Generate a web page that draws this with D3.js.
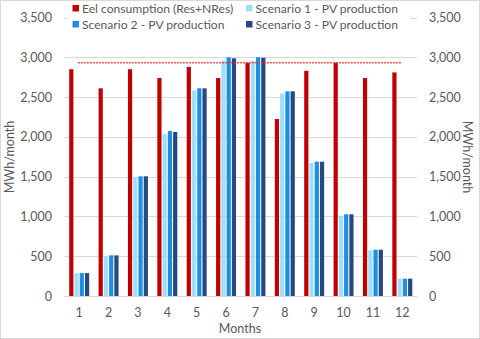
<!DOCTYPE html>
<html><head><meta charset="utf-8">
<script src="https://cdn.jsdelivr.net/npm/d3@7"></script>
<style>body{margin:0;background:#fff}svg{display:block}text{font-family:Lato,"Open Sans",sans-serif;fill:#595959}</style>
</head><body>
<script>
const months = ["1","2","3","4","5","6","7","8","9","10","11","12"];
const seriesNames = ["Eel consumption (Res+NRes)","Scenario 1 - PV production","Scenario 2 - PV production","Scenario 3 - PV production"];
const consumption = [2850,2610,2850,2740,2880,2740,2930,2225,2830,2930,2740,2810];
const scenario1 = [285,503,1487,2036,2585,2957,2957,2547,1671,1009,574,218];
const scenario2 = [288,511,1504,2074,2610,3000,3000,2572,1688,1027,582,218];
const scenario3 = [288,511,1504,2061,2610,2987,2995,2572,1688,1027,582,218];
const maxConsumption = 2930;
const yTicks = [0,500,1000,1500,2000,2500,3000,3500];
const colors = ["#C00000","#9DDFFD","#1A8FE3","#264A80"];

const W=480,H=339;
const svg=d3.select("body").append("svg").attr("width",W).attr("height",H);
svg.append("rect").attr("x",0.5).attr("y",0.5).attr("width",W-1).attr("height",H-1).attr("fill","#fff").attr("stroke","#d9d9d9");

const x=d3.scaleBand().domain(months).range([64.5,417]).paddingInner(0.32).paddingOuter(0.16);
const y=d3.scaleLinear().domain([0,3500]).range([296,17.5]);
const xs=d3.scaleBand().domain(d3.range(4)).range([0,x.bandwidth()]).paddingInner(0.2);

// grid
svg.append("g").selectAll("line").data(yTicks).join("line")
  .attr("x1",64.5).attr("x2",417).attr("y1",d=>Math.round(y(d))+0.5).attr("y2",d=>Math.round(y(d))+0.5)
  .attr("stroke","#d9d9d9").attr("stroke-width",1);

// axes labels
const fmt=d3.format(",");
const la=svg.append("g").attr("transform","translate(57,0)").call(d3.axisLeft(y).tickValues(yTicks).tickFormat(fmt).tickSize(0).tickPadding(5));
la.select(".domain").remove();
const ra=svg.append("g").attr("transform","translate(424,0)").call(d3.axisRight(y).tickValues(yTicks).tickFormat(fmt).tickSize(0).tickPadding(5));
ra.select(".domain").remove();
const ba=svg.append("g").attr("transform","translate(0,296)").call(d3.axisBottom(x).tickSize(0).tickPadding(12));
ba.select(".domain").attr("stroke","#d9d9d9");
svg.selectAll(".tick text").attr("font-family","Lato,sans-serif").attr("font-size",12.5).attr("fill","#595959");

// bars
const data=[consumption,scenario1,scenario2,scenario3];
const g=svg.append("g");
data.forEach((vals,si)=>{
  g.selectAll(null).data(vals).join("rect")
    .attr("x",(d,i)=>x(months[i])+xs(si))
    .attr("width",xs.bandwidth())
    .attr("y",d=>y(d)).attr("height",d=>y(0)-y(d))
    .attr("fill",colors[si]);
});

// max line
svg.append("line").attr("x1",x(months[0])+x.bandwidth()/2-1).attr("x2",x(months[11])+x.bandwidth()/2)
  .attr("y1",y(maxConsumption)).attr("y2",y(maxConsumption))
  .attr("stroke","#FF2020").attr("stroke-width",1.5).attr("stroke-dasharray","1.5,1.5");

// titles
svg.append("text").attr("transform","translate(14,157) rotate(-90)").attr("text-anchor","middle").attr("font-size",12.5).text("MWh/month");
svg.append("text").attr("transform","translate(463,157) rotate(90)").attr("text-anchor","middle").attr("font-size",12.5).text("MWh/month");
svg.append("text").attr("x",240).attr("y",332.5).attr("text-anchor","middle").attr("font-size",12.5).text("Months");

// legend
const leg=svg.append("g");
leg.append("rect").attr("x",68).attr("y",2).attr("width",342).attr("height",29).attr("fill","#fff");
const legPos=[[72.5,5],[246,5],[72.5,21],[246,21]];
const order=[0,1,2,3];
order.forEach((si,k)=>{
  const [lx,ly]=legPos[k];
  leg.append("rect").attr("x",lx).attr("y",ly).attr("width",6.5).attr("height",6.5).attr("fill",colors[si]);
  leg.append("text").attr("x",lx+9.5).attr("y",ly+8).attr("font-size",12.1).text(seriesNames[si]);
});
</script>
</body></html>
